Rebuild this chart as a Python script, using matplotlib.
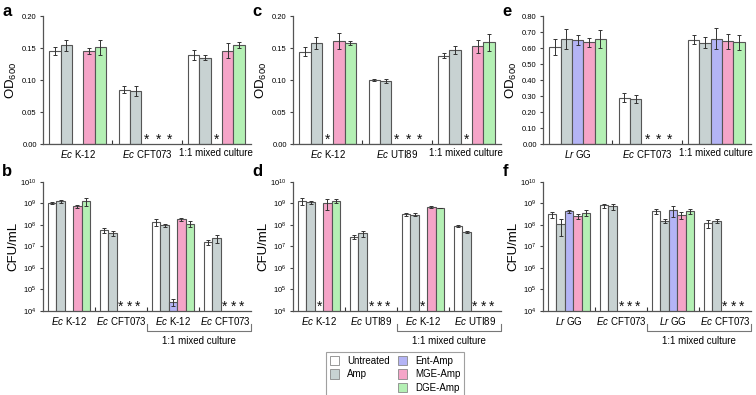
import numpy as np
import matplotlib
matplotlib.use("Agg")
import matplotlib.pyplot as plt
from matplotlib.patches import Patch
from matplotlib.ticker import FixedLocator, FuncFormatter

plt.rcParams['font.family'] = ['Liberation Sans', 'DejaVu Sans']
plt.rcParams['mathtext.fontset'] = 'custom'
plt.rcParams['mathtext.rm'] = 'Liberation Sans'
plt.rcParams['mathtext.it'] = 'Liberation Sans:italic'

# Treatments (order of bars inside each group)
TREATMENTS = ['Untreated', 'Amp', 'Ent-Amp', 'MGE-Amp', 'DGE-Amp']
COLORS = ['#ffffff', '#c8d2d2', '#b4b4f5', '#f5a5c8', '#b4f0b4']

# nan = not tested (nothing drawn), 0 = below detection (asterisk)
nan = np.nan

# --- panel a: OD600, Ec K-12 / Ec CFT073 ---
a_groups = [r'$\mathit{Ec}$ K-12', r'$\mathit{Ec}$ CFT073', '1:1 mixed culture']
a_vals = [[0.145, 0.154, nan, 0.145, 0.151],
          [0.085, 0.083, 0, 0, 0],
          [0.139, 0.135, 0, 0.146, 0.155]]
a_err = [[0.006, 0.009, nan, 0.005, 0.012],
         [0.006, 0.008, 0, 0, 0],
         [0.008, 0.004, 0, 0.012, 0.005]]

# --- panel c: OD600, Ec K-12 / Ec UTI89 ---
c_groups = [r'$\mathit{Ec}$ K-12', r'$\mathit{Ec}$ UTI89', '1:1 mixed culture']
c_vals = [[0.144, 0.158, 0, 0.161, 0.158],
          [0.100, 0.098, 0, 0, 0],
          [0.138, 0.147, 0, 0.153, 0.159]]
c_err = [[0.007, 0.010, 0, 0.012, 0.003],
         [0.001, 0.003, 0, 0, 0],
         [0.004, 0.006, 0, 0.010, 0.013]]

# --- panel e: OD600, Lr GG / Ec CFT073 ---
e_groups = [r'$\mathit{Lr}$ GG', r'$\mathit{Ec}$ CFT073', '1:1 mixed culture']
e_vals = [[0.605, 0.659, 0.653, 0.636, 0.655],
          [0.290, 0.282, 0, 0, 0],
          [0.653, 0.632, 0.659, 0.642, 0.636]]
e_err = [[0.049, 0.062, 0.031, 0.029, 0.055],
         [0.028, 0.027, 0, 0, 0],
         [0.028, 0.034, 0.068, 0.047, 0.048]]

# --- panel b: CFU/mL ---
b_groups = [r'$\mathit{Ec}$ K-12', r'$\mathit{Ec}$ CFT073', r'$\mathit{Ec}$ K-12', r'$\mathit{Ec}$ CFT073']
b_vals = [[1.05e9, 1.25e9, nan, 7.4e8, 1.3e9],
          [5.6e7, 4.2e7, 0, 0, 0],
          [1.4e8, 9.6e7, 2.6e4, 1.8e8, 1.15e8],
          [1.6e7, 2.4e7, 0, 0, 0]]
b_err = [[0.08e9, 0.25e9, nan, 1.3e8, 0.5e9],
         [1.6e7, 1.2e7, 0, 0, 0],
         [0.5e8, 1.5e7, 1.0e4, 0.2e8, 0.35e8],
         [0.4e7, 1.0e7, 0, 0, 0]]

# --- panel d: CFU/mL ---
d_groups = [r'$\mathit{Ec}$ K-12', r'$\mathit{Ec}$ UTI89', r'$\mathit{Ec}$ K-12', r'$\mathit{Ec}$ UTI89']
d_vals = [[1.3e9, 1.17e9, 0, 1.1e9, 1.3e9],
          [2.8e7, 4.0e7, 0, 0, 0],
          [3.2e8, 3.0e8, 0, 6.9e8, 6.2e8],
          [8.7e7, 4.6e7, 0, 0, 0]]
d_err = [[0.45e9, 0.2e9, 0, 0.6e9, 0.25e9],
         [0.5e7, 1.4e7, 0, 0, 0],
         [0.5e8, 0.5e8, 0, 1.0e8, 0.1e8],
         [1.0e7, 0.5e7, 0, 0, 0]]

# --- panel f: CFU/mL ---
f_groups = [r'$\mathit{Lr}$ GG', r'$\mathit{Ec}$ CFT073', r'$\mathit{Lr}$ GG', r'$\mathit{Ec}$ CFT073']
f_vals = [[3.2e8, 1.05e8, 4.4e8, 2.5e8, 3.7e8],
          [8.1e8, 7.3e8, 0, 0, 0],
          [4.4e8, 1.5e8, 4.8e8, 2.8e8, 4.5e8],
          [1.2e8, 1.5e8, 0, 0, 0]]
f_err = [[1.0e8, 0.75e8, 0.7e8, 0.7e8, 1.2e8],
         [1.8e8, 2.5e8, 0, 0, 0],
         [1.3e8, 0.3e8, 2.5e8, 1.0e8, 1.2e8],
         [0.5e8, 0.3e8, 0, 0, 0]]

BAR_W = 0.163
EDGE = '#555555'


def draw_bars(ax, groups, vals, errs):
    n = len(groups)
    for g in range(n):
        for k in range(5):
            x = g + (k - 2) * BAR_W
            v = vals[g][k]
            if np.isnan(v):
                continue
            if v == 0:
                # below detection limit
                ax.text(x, 0.03, '*', transform=ax.get_xaxis_transform(),
                        ha='center', va='center', fontsize=10, color='#111111')
                continue
            ax.bar(x, v, width=BAR_W, color=COLORS[k], edgecolor=EDGE,
                   linewidth=0.8, zorder=2)
            ax.errorbar(x, v, yerr=errs[g][k], fmt='none', ecolor='#333333',
                        elinewidth=0.7, capsize=1.3, capthick=0.7, zorder=3)
    ax.set_xlim(-0.5, n - 0.5)
    ax.set_xticks(range(n))
    ax.set_xticklabels(groups, fontsize=7)
    ax.tick_params(axis='x', which='major', length=0, pad=3)
    ax.xaxis.set_minor_locator(FixedLocator([i + 0.5 for i in range(n - 1)]))
    ax.tick_params(axis='x', which='minor', direction='in', length=3,
                   width=0.8, color='#333333')
    ax.tick_params(axis='y', which='major', direction='out', length=2.5,
                   width=0.8, color='#444444', labelsize=5.5, pad=2)
    for s in ['top', 'right']:
        ax.spines[s].set_visible(False)
    for s in ['left', 'bottom']:
        ax.spines[s].set_color(EDGE)
        ax.spines[s].set_linewidth(0.9)


def setup_od(ax, top, step):
    ax.set_ylim(0, top)
    ax.set_yticks(np.arange(0, top + step / 2, step))
    ax.yaxis.set_major_formatter(FuncFormatter(lambda v, p: f'{v:.2f}'))
    ax.set_ylabel(r'OD$_{600}$', fontsize=9.5)
    ax.yaxis.set_label_coords(-0.115, 0.5)


def setup_cfu(ax):
    ax.set_yscale('log')
    ax.set_ylim(1e4, 1e10)
    ax.set_yticks([10.0 ** p for p in range(4, 11)])
    ax.yaxis.set_minor_locator(FixedLocator([]))
    ax.yaxis.set_major_formatter(FuncFormatter(lambda v, p: r'$10^{%d}$' % round(np.log10(v))))
    ax.tick_params(axis='y', labelsize=5)
    ax.set_ylabel('CFU/mL', fontsize=9.5)
    ax.yaxis.set_label_coords(-0.115, 0.5)
    # bracket under the two mixed-culture groups
    tr = ax.get_xaxis_transform()
    ax.plot([1.5, 1.5, 3.5, 3.5], [-0.1, -0.155, -0.155, -0.1], transform=tr,
            color='#777777', lw=0.8, clip_on=False)
    ax.text(2.5, -0.2, '1:1 mixed culture', transform=tr, ha='center',
            va='top', fontsize=7)


fig = plt.figure(figsize=(7.56, 3.95), dpi=100)
lefts = [0.0569, 0.3876, 0.7183]
W = 0.2751
top_axes = [fig.add_axes([l, 0.6354, W, 0.324]) for l in lefts]
bot_axes = [fig.add_axes([l, 0.2134, W, 0.3258]) for l in lefts]

draw_bars(top_axes[0], a_groups, a_vals, a_err)
setup_od(top_axes[0], 0.20, 0.05)
draw_bars(top_axes[1], c_groups, c_vals, c_err)
setup_od(top_axes[1], 0.20, 0.05)
draw_bars(top_axes[2], e_groups, e_vals, e_err)
setup_od(top_axes[2], 0.80, 0.10)

for ax, g, v, e in zip(bot_axes, [b_groups, d_groups, f_groups],
                       [b_vals, d_vals, f_vals], [b_err, d_err, f_err]):
    setup_cfu(ax)
    draw_bars(ax, g, v, e)
    ax.set_ylim(1e4, 1e10)

# panel letters
for lab, x, y in [('a', 0.003, 0.99), ('c', 0.334, 0.99), ('e', 0.665, 0.99),
                  ('b', 0.003, 0.585), ('d', 0.334, 0.585), ('f', 0.665, 0.585)]:
    fig.text(x, y, lab, fontsize=12, fontweight='bold', ha='left', va='top')

# legend: two entries in first column, three in second
handles = [Patch(facecolor=COLORS[0], edgecolor='#888888', lw=0.6),
           Patch(facecolor=COLORS[1], edgecolor='#888888', lw=0.6),
           Patch(facecolor='none', edgecolor='none'),
           Patch(facecolor=COLORS[2], edgecolor='#888888', lw=0.6),
           Patch(facecolor=COLORS[3], edgecolor='#888888', lw=0.6),
           Patch(facecolor=COLORS[4], edgecolor='#888888', lw=0.6)]
labels = ['Untreated', 'Amp', '', 'Ent-Amp', 'MGE-Amp', 'DGE-Amp']
leg = fig.legend(handles, labels, ncol=2, loc='upper left',
                 bbox_to_anchor=(321 / 756, 1 - 347 / 395), fontsize=7,
                 fancybox=False, edgecolor='#888888', handlelength=1.0,
                 handleheight=1.1, handletextpad=0.8, columnspacing=0.8,
                 labelspacing=0.35, borderpad=0.4)
leg.get_frame().set_linewidth(0.8)

fig.savefig('out.png', dpi=100)
